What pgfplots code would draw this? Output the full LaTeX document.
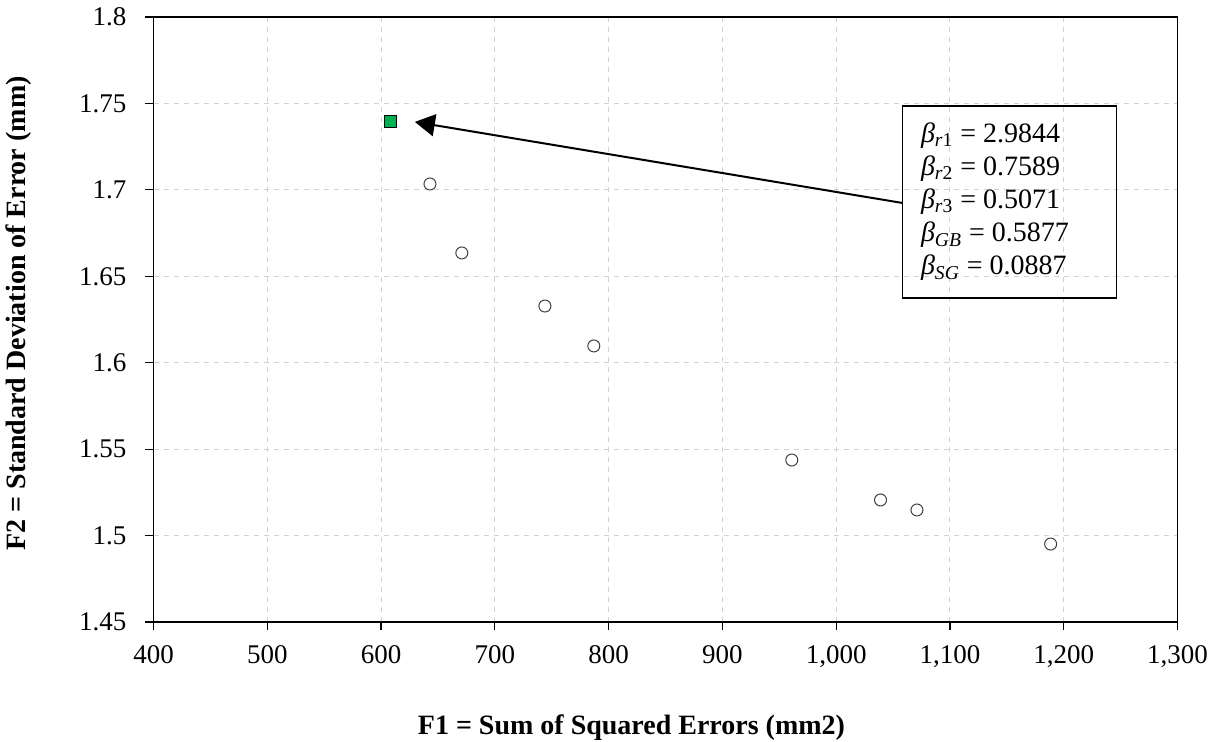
\documentclass[border=0pt]{standalone}
\usepackage{fontspec}
\setmainfont{Liberation Serif}
\usepackage{pgfplots}
\pgfplotsset{compat=1.18}
\usetikzlibrary{arrows.meta}
\definecolor{exgreen}{RGB}{0,176,80}
\definecolor{gridgray}{RGB}{210,210,210}
\begin{document}
\begin{tikzpicture}
\begin{axis}[
  scale only axis,
  width=512pt, height=302.5pt,
  xmin=400, xmax=1300, ymin=1.45, ymax=1.8,
  xtick={400,500,...,1300},
  ytick={1.45,1.5,1.55,1.6,1.65,1.7,1.75,1.8},
  axis line style={black, line width=0.6pt},
  tick align=outside,
  major tick length=4pt,
  xtick pos=bottom, ytick pos=left,
  tick style={black, line width=0.6pt},
  grid=major,
  major grid style={gridgray, dash pattern=on 2.5pt off 2.5pt, line width=0.5pt},
  /pgf/number format/assume math mode=true,
  x tick label style={/pgf/number format/.cd, 1000 sep={,}, fixed, /tikz/.cd, yshift=-4pt},
  y tick label style={/pgf/number format/.cd, fixed, precision=2, /tikz/.cd, xshift=-6pt},
  tick label style={font=\fontsize{13.5}{16}\selectfont},
  xlabel={\textbf{F1 = Sum of Squared Errors (mm2)}},
  ylabel={\textbf{F2 = Standard Deviation of Error (mm)}},
  label style={font=\fontsize{14}{16}\selectfont},
  xlabel style={at={(axis description cs:0.4668,-0.1752)}, anchor=center},
  ylabel style={at={(axis description cs:-0.1318,0.51)}, anchor=center, rotate=0},
  clip=false,
]
\addplot[only marks, mark=*, mark size=3pt, mark options={fill=white, draw=black!75, line width=0.5pt}] coordinates {
  (643,1.7034) (671,1.6635) (744,1.6328) (787,1.6097) (961,1.5437)
  (1039,1.5206) (1071,1.5148) (1188.5,1.4951)
};
\addplot[only marks, mark=square*, mark size=3pt, mark options={fill=exgreen, draw=black, line width=0.5pt}] coordinates {
  (608,1.7398)
};
\draw[black, line width=1pt, -{Triangle[length=10pt,width=11pt]}] (axis cs:1058.4,1.6924) -- (axis cs:629.7,1.7393);
\draw[black, line width=0.8pt] (axis cs:1058.4,1.6374) rectangle (axis cs:1246.4,1.7485);
\node[anchor=north west, align=left, inner sep=0pt, font=\fontsize{14}{16.6}\selectfont] at ([xshift=9pt,yshift=-8pt]axis cs:1058.4,1.7485) {%
\textit{β}\textsubscript{\textit{r}1} = 2.9844\\
\textit{β}\textsubscript{\textit{r}2} = 0.7589\\
\textit{β}\textsubscript{\textit{r}3} = 0.5071\\
\textit{β}\textsubscript{\textit{GB}} = 0.5877\\
\textit{β}\textsubscript{\textit{SG}} = 0.0887};
\end{axis}
\pgfresetboundingbox
\useasboundingbox (-76.75pt,-60pt) rectangle (532.75pt,311pt);
\end{tikzpicture}
\end{document}
